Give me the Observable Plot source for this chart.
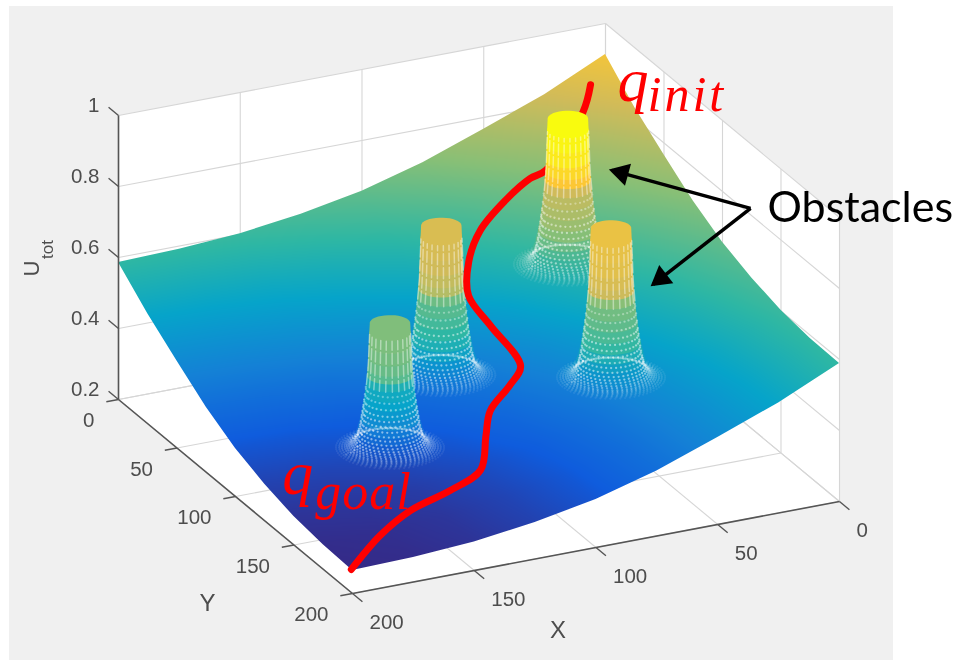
<!DOCTYPE html>
<html><head><meta charset="utf-8">
<style>
html,body{margin:0;padding:0;background:#fff;}
#panel{position:absolute;left:9px;top:6px;width:884px;height:654px;background:#f0f0f0;}
#chart{position:absolute;left:0;top:0;}
#chart svg{background:transparent;display:block;filter:blur(.45px);}
</style>
<script src="https://cdn.jsdelivr.net/npm/d3@7"></script>
<script src="https://cdn.jsdelivr.net/npm/@observablehq/plot@0.6"></script>
</head><body><div id="panel"></div><div id="chart"></div>
<script>
// ---- values ----
const xTicks=[0,50,100,150,200];
const yTicks=[0,50,100,150,200];
const zTicks=[0.2,0.4,0.6,0.8,1];
const gridX=[0,25,50,75,100,125,150,175,200];
const gridY=[0,25,50,75,100,125,150,175,200];
const gridZ=[
[.913,.832,.767,.705,.657,.625,.602,.591,.586],
[.832,.755,.690,.628,.580,.548,.525,.514,.510],
[.767,.690,.625,.563,.515,.483,.460,.449,.445],
[.705,.628,.563,.501,.453,.421,.398,.387,.383],
[.657,.580,.515,.453,.405,.373,.350,.339,.335],
[.625,.548,.483,.421,.373,.341,.318,.307,.303],
[.602,.525,.460,.398,.350,.318,.295,.284,.280],
[.591,.514,.449,.387,.339,.307,.284,.273,.269],
[.589,.510,.445,.383,.335,.303,.280,.269,.265]];
// path from goal to init
const pathX=[200,177.5,159,140,124.3,113,105,92.5,84.6,85.2,85.8,79,69.4,56,44.5,38,16,9.5];
const pathY=[199,177,164.5,159,152,133,120,111,103.5,79,61.5,47.5,37.5,31,28,28,14,7];
const pathZ=[.265,.272,.284,.301,.319,.349,.373,.405,.428,.475,.513,.561,.610,.659,.697,.712,.809,.859];
// obstacles
const obstacleX=[51,65,115,150];
const obstacleY=[74,140,99,128];
const obstacleBase=[.59,.47,.43,.35];
const obstacleTop=[1,.89,.85,.70];
// profile of an obstacle, bottom to top
const levelRadius=[20,17.5,15.5,14,12.8,11.9,11.1,10.4,9.8,9.3,8.9,8.6,8.3,8.1,7.9,7.7,7.5];
const levelHeight=[.01,.03,.05,.08,.12,.17,.23,.30,.37,.44,.52,.58,.64,.72,.82,.92,1];
const levelShade=[.01,.03,.05,.08,.12,.17,.23,.30,.37,.44,.50,.58,.84,.90,.95,.98,1];
const levelAlpha=[.05,.08,.12,.18,.26,.4,.65,.9,1,1,1,1,1,1,1,1,1];
// speckle rows on the lower part of an obstacle
const speckleRadius=[20,18.8,17.8,16.8,16,15.2,14.5,13.9,13.3,12.8,12.3,11.9,11.5,11.1,10.8,10.5,10.2,9.9,9.6,9.3,9.0];
const speckleHeight=[0,.002,.005,.01,.015,.02,.03,.04,.055,.07,.09,.115,.145,.175,.21,.25,.29,.33,.38,.43,.48];
const speckleAlpha=[.08,.12,.16,.2,.25,.3,.35,.4,.45,.5,.5,.5,.5,.5,.5,.5,.5,.5,.45,.4,.35];
// parula
const colorStops=[.265,.345,.425,.505,.586,.71,.83,.94,1];
const parula=["#352a87","#0f5cdd","#1481d6","#06a4ca","#2eb7a4","#87bf77","#d1bb59","#fec832","#f9fb0e"];

// ---- view of the 3-D box ----
const sx=(X,Y)=>605-2.435*X+1.17*Y;
const sy=(X,Y,Z)=>307+.46*X+.97*Y-355*(Z-.2);
const P=(X,Y,Z)=>({x:sx(X,Y),y:sy(X,Y,Z),X,Y,Z});

// surface samples and outline
const surface=gridY.flatMap((Y,j)=>gridX.map((X,i)=>({...P(X,Y,gridZ[j][i]),z:gridZ[j][i]})));
const n=gridX.length-1;
const outline=[
  ...gridX.map((X,i)=>P(X,0,gridZ[0][i])),
  ...gridY.map((Y,j)=>P(200,Y,gridZ[j][n])),
  ...gridX.map((X,i)=>P(X,200,gridZ[n][i])).reverse(),
  ...gridY.map((Y,j)=>P(0,Y,gridZ[j][0])).reverse()
];
const clipToOutline=(index,scales,values,dimensions,context,next)=>{
  const g=next(index,scales,values,dimensions,context);
  const sel=d3.select(g);
  sel.append("clipPath").attr("id","surface-clip").append("polygon")
    .attr("points",outline.map(p=>`${scales.x(p.x)},${scales.y(p.y)}`).join(" "));
  return d3.create("svg:g").attr("clip-path","url(#surface-clip)").call(s=>s.node().appendChild(g)).node();
};

// walls + grid
const wall=[P(200,0,.2),P(200,200,.2),P(0,200,.2),P(0,200,1),P(0,0,1),P(200,0,1)];
const seg=(a,b)=>({a:P(...a),b:P(...b)});
const grid=[
  ...xTicks.map(X=>seg([X,0,.2],[X,0,1])),
  ...yTicks.map(Y=>seg([0,Y,.2],[0,Y,1])),
  ...zTicks.map(Z=>seg([200,0,Z],[0,0,Z])),
  ...zTicks.map(Z=>seg([0,0,Z],[0,200,Z])),
  ...xTicks.map(X=>seg([X,0,.2],[X,200,.2])),
  ...yTicks.map(Y=>seg([200,Y,.2],[0,Y,.2]))
];
const axes=[seg([200,0,.2],[200,0,1]),seg([200,0,.2],[200,200,.2]),seg([200,200,.2],[0,200,.2])];
const ticks=[
  ...zTicks.map(Z=>seg([200,0,Z],[200,-8.5,Z])),
  ...yTicks.map(Y=>seg([200,Y,.2],[205,Y,.2])),
  ...xTicks.map(X=>seg([X,200,.2],[X,208.5,.2]))
];
const link=(data,o)=>Plot.link(data,{x1:d=>d.a.x,y1:d=>d.a.y,x2:d=>d.b.x,y2:d=>d.b.y,...o});

// obstacle marks
const angles=d3.range(0,360,10);
const rayAngles=[-15,5,22,38,54,70,86,102,118,134,150];
function obstacleMarks(k){
  const X0=obstacleX[k],Y0=obstacleY[k],b=obstacleBase[k],H=obstacleTop[k]-b;
  const at=(r,a,h)=>P(X0+r*Math.cos(a*Math.PI/180),Y0+r*Math.sin(a*Math.PI/180),b+h*H);
  const ring=(r,h)=>angles.map(a=>at(r,a,h));
  // each band is the outline of one level joined with the level below it
  const bands=levelRadius.flatMap((r,i)=>{
    const pts=[...ring(r,levelHeight[i]),...(i?ring(levelRadius[i-1],levelHeight[i-1]):[])].map(p=>[p.x,p.y]);
    return d3.polygonHull(pts).map(([x,y])=>({x,y,lev:i,z:b+levelShade[i]*H,alpha:levelAlpha[i]}));
  });
  const speck=speckleRadius.flatMap((r,i)=>{
    const h=speckleHeight[i], step=106/r;
    return d3.range((i%2)*step/2,360,step)
      .filter(a=>h<.04||Math.abs(((a-65+540)%360)-180)<100)
      .map(a=>({...at(r,a,h),alpha:speckleAlpha[i]}));
  });
  const rays=rayAngles.flatMap((a,j)=>levelRadius.map((r,i)=>({...at(r,a,levelHeight[i]),ray:j,h:levelHeight[i]})).filter(d=>d.h>.5&&d.h<.95));
  return [
    Plot.line(bands,{x:"x",y:"y",z:"lev",fill:"z",fillOpacity:"alpha",stroke:"none",curve:"linear-closed"}),
    Plot.dot(speck,{x:"x",y:"y",r:1.15,fill:"#fff",fillOpacity:"alpha",stroke:"none"}),
    Plot.line(rays,{x:"x",y:"y",z:"ray",stroke:"#fff",strokeOpacity:.42,strokeWidth:1.5,strokeDasharray:"11 3"})
  ];
}

// path and annotations
const path=pathX.map((X,i)=>P(X,pathY[i],pathZ[i]));
const goal=path[0], init=path[path.length-1];
const junction=P(0,124,.818);
const tips=[P(18,43,.727),P(28,99,.572)];
const arrowSegs=tips.map(t=>{
  const dx=t.x-junction.x,dy=t.y-junction.y,len=Math.hypot(dx,dy);
  return {a:junction,b:t,hx:t.x-dx/len*10,hy:t.y-dy/len*10,rot:Math.atan2(dx,-dy)*180/Math.PI};
});
const labelFont="Liberation Sans", ink="#4d4d4d";
const spaced=s=>(i,sc,v,d,c,next)=>{const g=next(i,sc,v,d,c);g.setAttribute("letter-spacing",s);return g;};
const mathText=(t,anchor,o)=>Plot.text([anchor],{x:"x",y:"y",text:()=>t,fill:"#f00",fontFamily:"Liberation Serif",fontStyle:"italic",textAnchor:"start",...o});

const chart=Plot.plot({
  width:959,height:660,margin:0,
  x:{domain:[0,959],range:[0,959],axis:null},
  y:{domain:[0,660],range:[0,660],axis:null},
  color:{type:"linear",domain:colorStops,range:parula,interpolate:"rgb"},
  style:{background:"transparent"},
  marks:[
    Plot.line(wall,{x:"x",y:"y",fill:"#fff",stroke:"none",curve:"linear-closed"}),
    link(grid,{stroke:"#d6d6d6",strokeWidth:1.1}),
    Plot.raster(surface,{x:"x",y:"y",fill:"z",interpolate:"barycentric",pixelSize:1,render:clipToOutline}),
    ...obstacleMarks(2),
    Plot.line(path,{x:"x",y:"y",stroke:"#f00",strokeWidth:7,curve:"catmull-rom",strokeLinecap:"round"}),
    ...obstacleMarks(0),
    ...obstacleMarks(1),
    ...obstacleMarks(3),
    link(axes,{stroke:"#555",strokeWidth:1.6}),
    link(ticks,{stroke:"#555",strokeWidth:1.4}),
    Plot.text(zTicks,{x:d=>sx(200,0),y:d=>sy(200,0,d),text:d=>String(d),dx:-19,dy:-10,textAnchor:"end",fontFamily:labelFont,fontSize:20.5,fill:ink}),
    Plot.text(yTicks,{x:d=>sx(200,d),y:d=>sy(200,d,.2),text:d=>String(d),dx:-24,dy:21,textAnchor:"end",fontFamily:labelFont,fontSize:20.5,fill:ink}),
    Plot.text(xTicks,{x:d=>sx(d,200),y:d=>sy(d,200,.2),text:d=>String(d),dx:17,dy:29,textAnchor:"start",fontFamily:labelFont,fontSize:20.5,fill:ink}),
    Plot.text([P(100,200,.2)],{x:"x",y:"y",text:()=>"X",dx:-38,dy:83,fontFamily:labelFont,fontSize:24,fill:ink}),
    Plot.text([P(200,100,.2)],{x:"x",y:"y",text:()=>"Y",dx:-28,dy:107,fontFamily:labelFont,fontSize:24,fill:ink}),
    Plot.text([P(200,0,.6)],{x:"x",y:"y",text:()=>"U",dx:-87,dy:11,rotate:-90,fontFamily:labelFont,fontSize:22,fill:ink}),
    Plot.text([P(200,0,.6)],{x:"x",y:"y",text:()=>"tot",dx:-71,dy:-8,rotate:-90,fontFamily:labelFont,fontSize:17,fill:ink}),
    mathText("q",init,{dx:27,dy:-4,fontSize:62}),
    mathText("init",init,{dx:57,dy:10,fontSize:50,render:spaced("3")}),
    mathText("q",goal,{dx:-69,dy:-95,fontSize:62}),
    mathText("goal",goal,{dx:-36,dy:-77,fontSize:52,render:spaced("1")}),
    link(arrowSegs,{stroke:"#000",strokeWidth:3.5}),
    Plot.dot(arrowSegs,{x:"hx",y:"hy",symbol:"triangle",r:8.5,fill:"#000",stroke:"none",rotate:"rot"}),
    Plot.text([junction],{x:"x",y:"y",text:()=>"Obstacles",dx:17,dy:0,textAnchor:"start",fontFamily:"Lato",fontSize:43,fill:"#000"})
  ]
});
document.getElementById("chart").appendChild(chart);
</script></body></html>
